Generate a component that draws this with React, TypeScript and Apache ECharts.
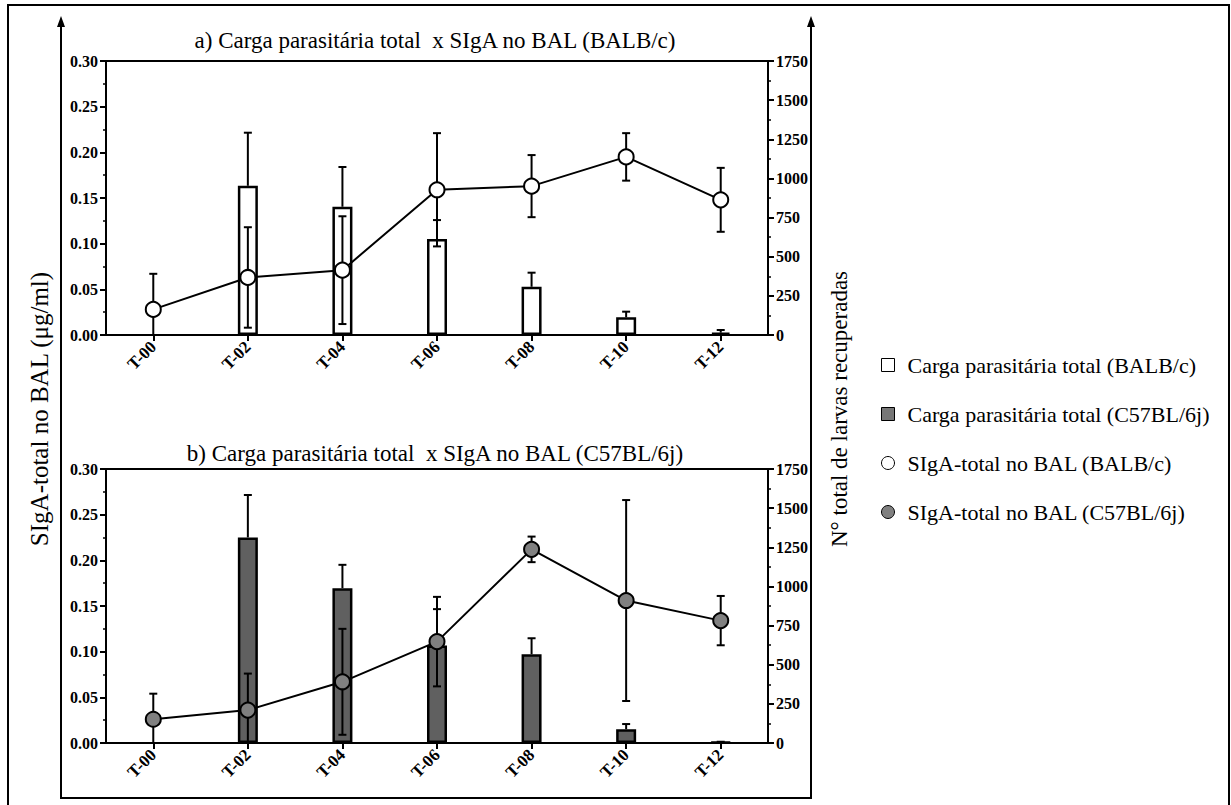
import React, { useEffect, useRef } from "react";
import * as echarts from "echarts";

const categories = ["T-00", "T-02", "T-04", "T-06", "T-08", "T-10", "T-12"];
const larvaeBalb = [0, 953, 819, 613, 308, 113, 15];
const larvaeBalbSd = [0, 339, 254, 121, 90, 36, 17];
const larvaeC57 = [0, 1313, 989, 622, 567, 88, 5];
const larvaeC57Sd = [0, 271, 149, 233, 102, 33, 3];
const sigaBalb = [0.028, 0.063, 0.071, 0.159, 0.163, 0.195, 0.148];
const sigaBalbSd = [0.039, 0.055, 0.059, 0.062, 0.034, 0.026, 0.035];
const sigaC57 = [0.026, 0.036, 0.067, 0.111, 0.212, 0.156, 0.134];
const sigaC57Sd = [0.028, 0.04, 0.058, 0.049, 0.014, 0.11, 0.027];

const leftTicks = { min: 0, max: 0.3, interval: 0.05 };
const rightTicks = { min: 0, max: 1750, interval: 250 };

const titleA = "a) Carga parasitária total  x SIgA no BAL (BALB/c)";
const titleB = "b) Carga parasitária total  x SIgA no BAL (C57BL/6j)";
const nameBarBalb = "Carga parasitária total (BALB/c)";
const nameBarC57 = "Carga parasitária total (C57BL/6j)";
const nameLineBalb = "SIgA-total no BAL (BALB/c)";
const nameLineC57 = "SIgA-total no BAL (C57BL/6j)";
const leftTitle = "SIgA-total no BAL (μg/ml)";
const rightTitle = "N° total de larvas recuperadas";

const FONT = "Liberation Serif";
const BLACK = "#000";
const AX = { color: BLACK, width: 2 };

function xAxisFor(gridIndex: number) {
  return {
    type: "category",
    gridIndex,
    data: categories,
    boundaryGap: true,
    axisLine: { show: true, lineStyle: AX },
    axisTick: { show: true, alignWithLabel: true, length: 6, lineStyle: AX },
    axisLabel: {
      interval: 0,
      rotate: 45,
      margin: 9,
      color: BLACK,
      fontFamily: FONT,
      fontWeight: "bold",
      fontSize: 17,
    },
    splitLine: { show: false },
  };
}

function yAxisFor(gridIndex: number, side: "left" | "right") {
  const t = side === "left" ? leftTicks : rightTicks;
  return {
    type: "value",
    gridIndex,
    position: side,
    min: t.min,
    max: t.max,
    interval: t.interval,
    axisLine: { show: true, lineStyle: AX },
    axisTick: { show: true, length: 6, lineStyle: AX },
    minorTick: { show: true, splitNumber: 2, length: 3, lineStyle: { color: BLACK, width: 1.5 } },
    axisLabel: {
      margin: 8,
      color: BLACK,
      fontFamily: FONT,
      fontWeight: "bold",
      fontSize: 16,
      formatter: side === "left" ? (v: number) => v.toFixed(2) : (v: number) => String(v),
    },
    splitLine: { show: false },
  };
}

function errorSeries(
  values: number[],
  sds: number[],
  xAxisIndex: number,
  yAxisIndex: number,
  upperOnly: boolean,
  z: number
) {
  return {
    type: "custom",
    xAxisIndex,
    yAxisIndex,
    z,
    silent: true,
    data: values.map((v, i) => [i, v, sds[i]]),
    renderItem: (params: any, api: any) => {
      const i = api.value(0);
      const v = api.value(1);
      const e = api.value(2);
      if (!e) return null;
      const hi = v + e;
      const lo = upperOnly ? v : Math.max(0, v - e);
      const pTop = api.coord([i, hi]);
      const pBot = api.coord([i, lo]);
      const cap = 4;
      const style = { stroke: BLACK, lineWidth: 2 };
      const children: any[] = [
        { type: "line", shape: { x1: pTop[0], y1: pTop[1], x2: pBot[0], y2: pBot[1] }, style },
        { type: "line", shape: { x1: pTop[0] - cap, y1: pTop[1], x2: pTop[0] + cap, y2: pTop[1] }, style },
      ];
      if (!upperOnly && v - e > 0) {
        children.push({
          type: "line",
          shape: { x1: pBot[0] - cap, y1: pBot[1], x2: pBot[0] + cap, y2: pBot[1] },
          style,
        });
      }
      return { type: "group", children };
    },
  };
}

function barSeries(name: string, values: number[], xi: number, yi: number, fill: string) {
  return {
    name,
    type: "bar",
    xAxisIndex: xi,
    yAxisIndex: yi,
    barWidth: 20,
    z: 2,
    data: values.map((v) => (v === 0 ? "-" : v)),
    itemStyle: { color: fill, borderColor: BLACK, borderWidth: 2.5 },
  };
}

function lineSeries(name: string, values: number[], xi: number, yi: number, fill: string) {
  return {
    name,
    type: "line",
    xAxisIndex: xi,
    yAxisIndex: yi,
    z: 6,
    data: values,
    symbol: "circle",
    symbolSize: 15,
    lineStyle: { color: BLACK, width: 2 },
    itemStyle: { color: fill, borderColor: BLACK, borderWidth: 2 },
  };
}

function txt(text: string, x: number, y: number, size: number, rotation = 0) {
  return {
    type: "text",
    silent: true,
    x,
    y,
    rotation,
    style: {
      text,
      fontFamily: FONT,
      fontSize: size,
      fill: BLACK,
      textAlign: "center",
      textVerticalAlign: "middle",
    },
  };
}

export default function App() {
  const ref = useRef<HTMLDivElement>(null);
  useEffect(() => {
    if (!ref.current) return;
    const chart = echarts.init(ref.current, null, { renderer: "svg" });
    const option: any = {
      animation: false,
      backgroundColor: "#fff",
      grid: [
        { left: 106, top: 61, width: 662, height: 274, show: true, borderColor: BLACK, borderWidth: 2 },
        { left: 106, top: 469, width: 662, height: 274, show: true, borderColor: BLACK, borderWidth: 2 },
      ],
      xAxis: [xAxisFor(0), xAxisFor(1)],
      yAxis: [yAxisFor(0, "left"), yAxisFor(0, "right"), yAxisFor(1, "left"), yAxisFor(1, "right")],
      legend: {
        orient: "vertical",
        left: 876,
        top: 349,
        itemWidth: 13,
        itemHeight: 13,
        itemGap: 27,
        textStyle: { fontFamily: FONT, fontSize: 22, color: BLACK, lineHeight: 22, padding: [0, 0, 0, 8] },
        data: [
          { name: nameBarBalb, icon: "rect", itemStyle: { color: "#fff", borderColor: BLACK, borderWidth: 1 } },
          { name: nameBarC57, icon: "rect", itemStyle: { color: "#777", borderColor: BLACK, borderWidth: 1 } },
          { name: nameLineBalb, icon: "circle", itemStyle: { color: "#fff", borderColor: BLACK, borderWidth: 1 } },
          { name: nameLineC57, icon: "circle", itemStyle: { color: "#808080", borderColor: BLACK, borderWidth: 1 } },
        ],
      },
      series: [
        barSeries(nameBarBalb, larvaeBalb, 0, 1, "#fff"),
        errorSeries(larvaeBalb, larvaeBalbSd, 0, 1, true, 3),
        errorSeries(sigaBalb, sigaBalbSd, 0, 0, false, 4),
        lineSeries(nameLineBalb, sigaBalb, 0, 0, "#fff"),
        barSeries(nameBarC57, larvaeC57, 1, 3, "#606060"),
        errorSeries(larvaeC57, larvaeC57Sd, 1, 3, true, 3),
        errorSeries(sigaC57, sigaC57Sd, 1, 2, false, 4),
        lineSeries(nameLineC57, sigaC57, 1, 2, "#808080"),
      ],
      graphic: [
        {
          type: "rect",
          silent: true,
          shape: { x: 8, y: 5, width: 1221, height: 830 },
          style: { fill: "none", stroke: BLACK, lineWidth: 2 },
        },
        {
          type: "polyline",
          silent: true,
          shape: { points: [[61, 24], [61, 798], [811, 798], [811, 24]] },
          style: { fill: "none", stroke: BLACK, lineWidth: 2 },
        },
        {
          type: "polygon",
          silent: true,
          shape: { points: [[61, 16], [57, 27], [65, 27]] },
          style: { fill: BLACK },
        },
        {
          type: "polygon",
          silent: true,
          shape: { points: [[811, 16], [807, 27], [815, 27]] },
          style: { fill: BLACK },
        },
        txt(titleA, 435, 40, 23),
        txt(titleB, 435, 453, 23),
        txt(leftTitle, 39, 409, 25, Math.PI / 2),
        txt(rightTitle, 839, 409, 23, Math.PI / 2),
      ],
    };
    chart.setOption(option);
    return () => chart.dispose();
  }, []);
  return (
    <div
      ref={ref}
      style={{ position: "absolute", left: 0, top: 0, width: 1231, height: 805, background: "#fff" }}
    />
  );
}
